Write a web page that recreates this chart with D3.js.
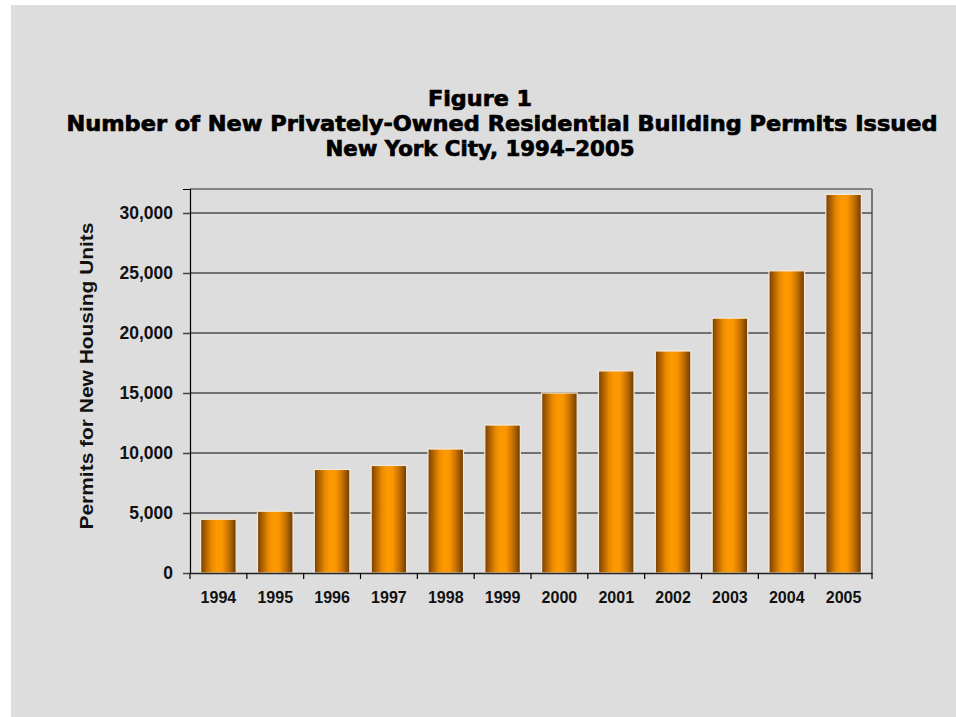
<!DOCTYPE html>
<html>
<head>
<meta charset="utf-8">
<script src="https://cdn.jsdelivr.net/npm/d3@7"></script>
<style>
  html, body { margin: 0; padding: 0; background: #fff; }
  svg { display: block; }
</style>
</head>
<body>
<div id="chart"></div>
<script>
// data
var years = ["1994", "1995", "1996", "1997", "1998", "1999", "2000", "2001", "2002", "2003", "2004", "2005"];
var permits = [4480, 5150, 8630, 8960, 10330, 12330, 15000, 16840, 18500, 21240, 25180, 31550];
var yTicks = [0, 5000, 10000, 15000, 20000, 25000, 30000];
var titleLines = [
    "Figure 1",
    "Number of New Privately-Owned Residential Building Permits Issued",
    "New York City, 1994\u20132005"
];
var yLabel = "Permits for New Housing Units";

(function () {
    var width = 956, height = 717;
    var plotLeft = 190, plotRight = 872, plotTop = 189, plotBottom = 573;

    var svg = d3.select("#chart").append("svg")
        .attr("width", width)
        .attr("height", height);

    // grey panel
    svg.append("rect")
        .attr("x", 11).attr("y", 5)
        .attr("width", width - 11).attr("height", height - 5)
        .attr("fill", "#dddddd");

    var defs = svg.append("defs");
    var grad = defs.append("linearGradient")
        .attr("id", "barGrad")
        .attr("x1", "0%").attr("x2", "100%")
        .attr("y1", "0%").attr("y2", "0%");
    [[0, "#774000"], [0.12, "#a85c00"], [0.3, "#e88a00"], [0.45, "#ff9900"],
     [0.6, "#fb9600"], [0.78, "#c87200"], [0.92, "#8e4e00"], [1, "#6e3c00"]].forEach(function (s) {
        grad.append("stop").attr("offset", s[0]).attr("stop-color", s[1]);
    });

    // title
    var titleX = [480, 502, 480];
    var titleY = [106, 131, 156];
    var titleLen = [104, 871, 309];
    titleLines.forEach(function (t, i) {
        svg.append("text")
            .attr("x", titleX[i]).attr("y", titleY[i])
            .attr("text-anchor", "middle")
            .attr("font-family", "'Arial Black', 'DejaVu Sans', sans-serif")
            .attr("font-weight", 900)
            .attr("font-size", 21)
            .attr("fill", "#000")
            .attr("stroke", "#000")
            .attr("stroke-width", 0.7)
            .attr("textLength", titleLen[i])
            .attr("lengthAdjust", "spacingAndGlyphs")
            .text(t);
    });

    var x = d3.scaleBand()
        .domain(years)
        .range([plotLeft, plotRight])
        .paddingInner(0.375)
        .paddingOuter(0.1875);

    var y = d3.scaleLinear()
        .domain([0, 32000])
        .range([plotBottom, plotTop]);

    var step = x.step();

    // plot frame (top and right)
    svg.append("line")
        .attr("x1", plotLeft).attr("x2", plotRight)
        .attr("y1", plotTop).attr("y2", plotTop)
        .attr("stroke", "#666").attr("stroke-width", 1.5);
    svg.append("line")
        .attr("x1", plotRight).attr("x2", plotRight)
        .attr("y1", plotTop).attr("y2", plotBottom)
        .attr("stroke", "#777").attr("stroke-width", 2);

    // gridlines
    svg.append("g")
        .selectAll("line")
        .data(yTicks.filter(function (d) { return d > 0; }))
        .enter().append("line")
        .attr("x1", plotLeft).attr("x2", plotRight)
        .attr("y1", function (d) { return y(d); })
        .attr("y2", function (d) { return y(d); })
        .attr("stroke", "#333").attr("stroke-width", 1.5)
        .attr("stroke-opacity", 0.85);

    // bars
    svg.append("g")
        .selectAll("rect")
        .data(permits)
        .enter().append("rect")
        .attr("x", function (d, i) { return x(years[i]); })
        .attr("y", function (d) { return y(d); })
        .attr("width", x.bandwidth())
        .attr("height", function (d) { return y(0) - y(d); })
        .attr("fill", "url(#barGrad)")
        .attr("stroke", "#f3eadc")
        .attr("stroke-width", 1.2);

    // y axis
    var yAxis = d3.axisLeft(y)
        .tickValues(yTicks)
        .tickSize(7)
        .tickPadding(10)
        .tickFormat(d3.format(","));

    var yg = svg.append("g")
        .attr("transform", "translate(" + plotLeft + ",0)")
        .call(yAxis);
    yg.select(".domain").attr("stroke", "#000").attr("stroke-width", 1.2);
    yg.selectAll(".tick line").attr("stroke", "#444").attr("stroke-width", 1.5);
    yg.selectAll("text")
        .attr("font-family", "'Liberation Sans', Arial, sans-serif")
        .attr("font-weight", "bold")
        .attr("font-size", 17.5)
        .attr("fill", "#111");

    // x axis
    var xg = svg.append("g")
        .attr("transform", "translate(0," + plotBottom + ")")
        .call(d3.axisBottom(x).tickSize(0).tickPadding(19));
    xg.select(".domain").attr("stroke", "#222").attr("stroke-width", 1.5);
    xg.selectAll("text")
        .attr("font-family", "'Liberation Sans', Arial, sans-serif")
        .attr("font-weight", "bold")
        .attr("font-size", 16)
        .attr("fill", "#111");

    // x tick marks between categories
    xg.selectAll(".sep")
        .data(d3.range(years.length + 1))
        .enter().append("line")
        .attr("class", "sep")
        .attr("x1", function (i) { return plotLeft + i * step; })
        .attr("x2", function (i) { return plotLeft + i * step; })
        .attr("y1", 0).attr("y2", 6)
        .attr("stroke", "#000").attr("stroke-width", 1.2);

    // y axis title
    svg.append("text")
        .attr("transform", "translate(93,376) rotate(-90)")
        .attr("text-anchor", "middle")
        .attr("font-family", "'Liberation Sans', Arial, sans-serif")
        .attr("font-weight", "bold")
        .attr("font-size", 18)
        .attr("textLength", 307)
        .attr("lengthAdjust", "spacingAndGlyphs")
        .attr("fill", "#111")
        .text(yLabel);
})();
</script>
</body>
</html>
